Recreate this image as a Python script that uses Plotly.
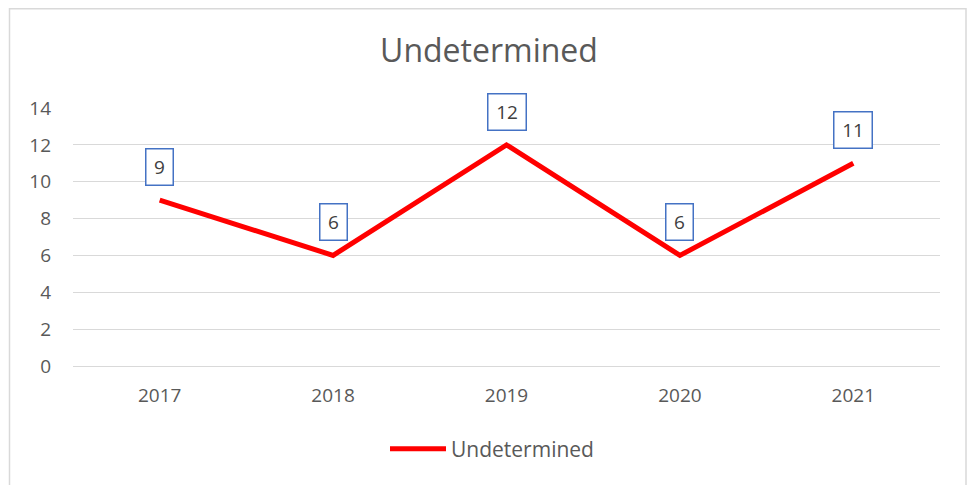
import plotly.graph_objects as go

years = ["2017", "2018", "2019", "2020", "2021"]
undetermined = [9, 6, 12, 6, 11]

# page body has an 8px margin, so positions below are measured in figure coords
W, H = 976, 485
L, T = 65, 100
R = W - 932
B = H - 358
pw, ph = W - L - R, H - T - B

fig = go.Figure()
fig.add_trace(go.Scatter(x=years, y=undetermined, mode="lines", name="Undetermined",
                         line=dict(color="#FF0000", width=5)))

# data labels in blue boxes above each point (category index for x)
for i, v in enumerate(undetermined):
    fig.add_annotation(x=i, y=v, text=str(v), showarrow=False, yshift=33,
                       font=dict(size=19, color="#404040", family="Open Sans"),
                       bgcolor="white", bordercolor="#4472C4", borderwidth=1.5,
                       borderpad=2, width=22 if v < 10 else 33, height=31)

# outer chart border
fig.add_shape(type="rect", xref="paper", yref="paper", layer="below",
              x0=(1.5 - L) / pw, x1=(958 - L) / pw,
              y0=(T + ph - 520) / ph, y1=(T + ph - 0.8) / ph,
              line=dict(color="#D9D9D9", width=1.5), fillcolor="rgba(0,0,0,0)")

fig.update_layout(
    width=W, height=H,
    margin=dict(l=L, r=R, t=T, b=B, autoexpand=False),
    paper_bgcolor="white", plot_bgcolor="white",
    font=dict(family="Open Sans", color="#595959", size=19),
    title=dict(text="Undetermined", x=481 / W, xanchor="center", y=1 - 43 / H, yanchor="middle",
               font=dict(size=32, color="#595959")),
    showlegend=True,
    legend=dict(orientation="h", x=(484 - L) / pw, xanchor="center", y=-(441 - (T + ph)) / ph,
                yanchor="middle", font=dict(size=21), itemwidth=56),
)
fig.update_xaxes(type="category", range=[-0.5, 4.5], showgrid=False, showline=False,
                 ticks="", ticklabelstandoff=16)
fig.update_yaxes(range=[0, 14], dtick=2, showgrid=True, gridcolor="#D9D9D9", gridwidth=1.2,
                 zeroline=True, zerolinecolor="#D9D9D9", zerolinewidth=1.2,
                 showline=False, ticks="", ticklabelstandoff=21)

fig.write_html("out.html")
